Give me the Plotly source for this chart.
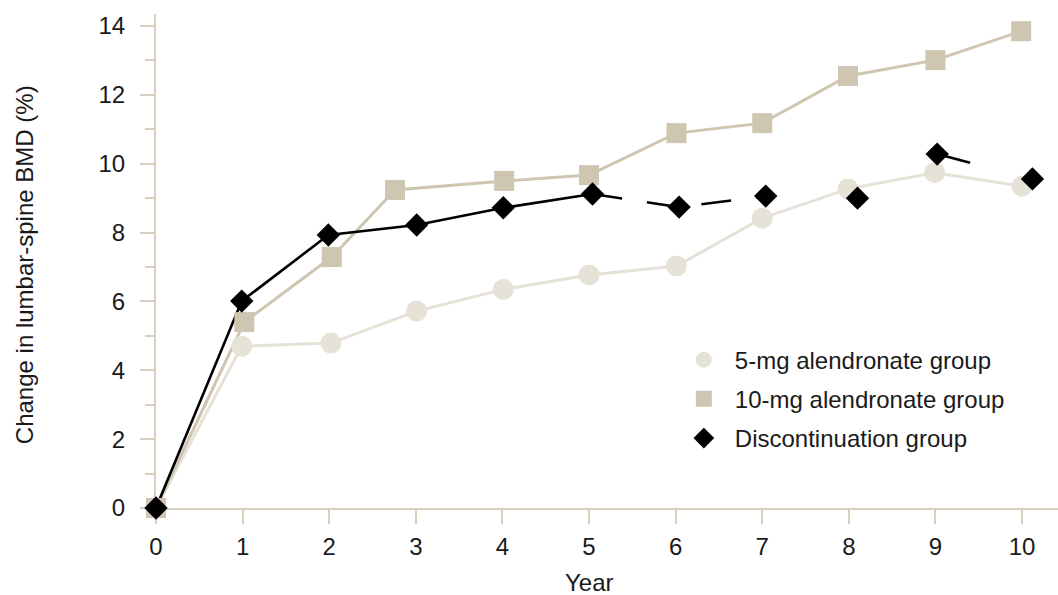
import plotly.graph_objects as go

# ---- data ----
years_5mg = [0, 0.99, 2.02, 3.01, 4.01, 5.0, 6.01, 7.0, 7.99, 8.99, 10.0]
bmd_5mg = [0, 4.70, 4.79, 5.72, 6.35, 6.77, 7.03, 8.42, 9.27, 9.74, 9.35]

years_10mg = [0, 1.02, 2.03, 2.76, 4.02, 5.0, 6.01, 7.0, 7.99, 9.0, 9.99]
bmd_10mg = [0, 5.40, 7.29, 9.24, 9.50, 9.67, 10.89, 11.18, 12.55, 13.01, 13.85]

years_disc = [0, 0.99, 1.99, 3.01, 4.01, 5.04, 6.04, 7.04, 8.10, 9.02, 10.12]
bmd_disc = [0, 6.01, 7.93, 8.22, 8.72, 9.12, 8.74, 9.06, 9.00, 10.28, 9.56]

x_ticks = list(range(0, 11))
y_ticks = list(range(0, 15, 2))
x_title = "Year"
y_title = "Change in lumbar-spine BMD (%)"
names = ["5-mg alendronate group", "10-mg alendronate group", "Discontinuation group"]

# ---- styles ----
FONT = "Liberation Sans, Arial, sans-serif"
C5 = "#e6e2d7"
C10 = "#cfc6b1"
CD = "#000000"
AX = "#d9cfbd"
TXT = "#1a1a1a"
FS = 24

fig = go.Figure()

# connecting lines
fig.add_trace(go.Scatter(x=years_5mg, y=bmd_5mg, mode="lines",
                         line=dict(color=C5, width=3), showlegend=False, hoverinfo="skip"))
fig.add_trace(go.Scatter(x=years_10mg, y=bmd_10mg, mode="lines",
                         line=dict(color=C10, width=3), showlegend=False, hoverinfo="skip"))
# discontinuation: solid up to year 5, dashed afterwards (with breaks)
fig.add_trace(go.Scatter(x=years_disc[:6], y=bmd_disc[:6], mode="lines",
                         line=dict(color=CD, width=2.6), showlegend=False, hoverinfo="skip"))
fig.add_trace(go.Scatter(x=years_disc[5:8], y=bmd_disc[5:8], mode="lines",
                         line=dict(color=CD, width=2.6, dash="30px,25px"),
                         showlegend=False, hoverinfo="skip"))
fig.add_trace(go.Scatter(x=years_disc[9:11], y=bmd_disc[9:11], mode="lines",
                         line=dict(color=CD, width=2.6, dash="34px,120px"),
                         showlegend=False, hoverinfo="skip"))

# markers (legend entries)
fig.add_trace(go.Scatter(x=years_5mg, y=bmd_5mg, mode="markers", name=names[0],
                         legendgroup="a",
                         marker=dict(symbol="circle", size=21, color=C5), cliponaxis=False))
fig.add_trace(go.Scatter(x=years_10mg, y=bmd_10mg, mode="markers", name=names[1],
                         legendgroup="b",
                         marker=dict(symbol="square", size=20, color=C10), cliponaxis=False))
fig.add_trace(go.Scatter(x=years_disc, y=bmd_disc, mode="markers", name=names[2],
                         legendgroup="c",
                         marker=dict(symbol="diamond", size=18, color=CD), cliponaxis=False))

fig.update_layout(
    width=1058, height=595,
    margin=dict(l=156, r=0, t=14, b=87),
    paper_bgcolor="white", plot_bgcolor="white",
    font=dict(family=FONT, size=FS, color=TXT),
    showlegend=True,
    legend=dict(x=0.573, y=0.345, xanchor="left", yanchor="top",
                bgcolor="rgba(0,0,0,0)", font=dict(size=FS, family=FONT, color=TXT),
                traceorder="grouped", tracegroupgap=5, itemwidth=52),
    xaxis=dict(range=[0, 10.415], tickmode="array", tickvals=x_ticks,
               showgrid=False, zeroline=False, showline=True, linecolor=AX, linewidth=2,
               ticks="outside", ticklen=14, tickcolor=AX, tickwidth=2,
               ticklabelstandoff=2, layer="below traces",
               tickfont=dict(size=FS, family=FONT, color=TXT)),
    yaxis=dict(range=[0, 14.35], tickmode="array", tickvals=y_ticks,
               showgrid=False, zeroline=False, showline=True, linecolor=AX, linewidth=2,
               ticks="outside", ticklen=14, tickcolor=AX, tickwidth=2,
               ticklabelstandoff=10, layer="below traces",
               minor=dict(dtick=1, tick0=0, ticks="outside", ticklen=9, tickcolor=AX, tickwidth=2),
               tickfont=dict(size=FS, family=FONT, color=TXT)),
    annotations=[
        dict(text=x_title, xref="paper", yref="paper", x=0.481, y=-0.150,
             xanchor="center", yanchor="middle", showarrow=False,
             font=dict(size=FS, family=FONT, color=TXT)),
        dict(text=y_title, xref="paper", yref="paper", x=-0.145, y=0.492,
             xanchor="center", yanchor="middle", showarrow=False, textangle=-90,
             font=dict(size=FS, family=FONT, color=TXT)),
    ],
)

fig.write_html("out.html", config={"displayModeBar": False},
               post_script="document.body.style.margin='0px';")
